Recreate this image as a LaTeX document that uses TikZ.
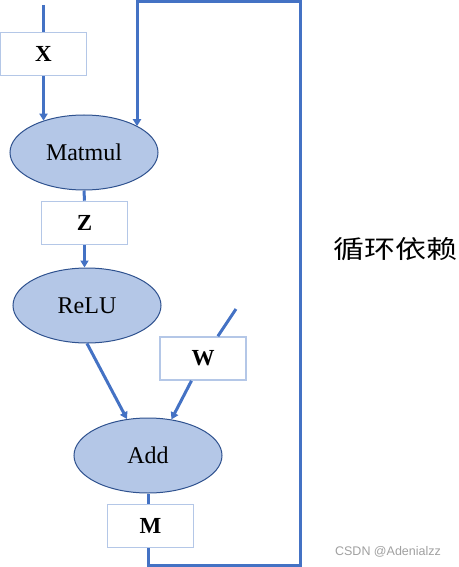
\documentclass[tikz,border=0pt]{standalone}
\usepackage{fontspec}
\setmainfont{Liberation Serif}
\newfontfamily\cjkfont{Noto Sans CJK SC}
\newfontfamily\wmfont{Liberation Sans}
\usetikzlibrary{shapes.geometric,arrows.meta}
\definecolor{lineblue}{HTML}{4472C4}
\definecolor{ellfill}{HTML}{B4C7E7}
\definecolor{elldraw}{HTML}{2F528F}
\definecolor{boxdraw}{HTML}{B4C7E7}
\definecolor{wmgray}{HTML}{A0A0A0}
\begin{document}
\begin{tikzpicture}[x=1pt,y=-1pt,
 op/.style={ellipse, draw=elldraw, line width=1pt, fill=ellfill, minimum width=148pt, minimum height=75pt, inner sep=0pt, font=\fontsize{24}{26}\selectfont},
 lbl/.style={rectangle, draw=boxdraw, line width=1.6pt, fill=white, minimum width=86pt, minimum height=43pt, inner sep=0pt, font=\fontsize{23}{26}\selectfont\bfseries},
 conn/.style={draw=lineblue, line width=3pt},
 arr/.style={conn, -{Triangle[length=7pt,width=8pt]}}]
\useasboundingbox (0,0) rectangle (458,567);
% nodes
\node[lbl] (X) at (43.5,54) {X};
\node[op] (Matmul) at (84,152.5) {Matmul};
\node[lbl] (Z) at (84.5,223) {Z};
\node[op] (ReLU) at (87,305.5) {ReLU};
\node[lbl] (W) at (203,358.5) {W};
\node[op] (Add) at (148,455.5) {Add};
\node[lbl] (M) at (150.5,526) {M};
\node[font=\cjkfont\fontsize{25}{28}\selectfont, xscale=1.24] (loop) at (395,249) {循环依赖};
\node[font=\wmfont\fontsize{12.5}{14}\selectfont, text=wmgray] (wm) at (388,552) {CSDN @Adenialzz};
% coordinates
\coordinate (x0) at (43.5,5);
\coordinate (w0) at (236,309);
\coordinate (rb) at (300,565);
\coordinate (lt) at (137,1.5);
% connectors
\draw[conn] (x0) -- (X.north);
\draw[arr] (X.south) -- (X.south |- Matmul.142.7);
\draw[conn] (Matmul.south) -- (Z.north);
\draw[arr] (Z.south) -- (Z.south |- ReLU.north);
\draw[arr] (ReLU.south) -- (Add.120.3);
\draw[conn] (w0) -- (W);
\draw[arr] (W) -- (Add.57);
\draw[conn] (Add.south) -- (Add.south |- M.north);
\draw[arr, line join=miter] (Add.south |- M.south) |- (rb) |- (lt) -- (lt |- Matmul.26.3);
\end{tikzpicture}
\end{document}
